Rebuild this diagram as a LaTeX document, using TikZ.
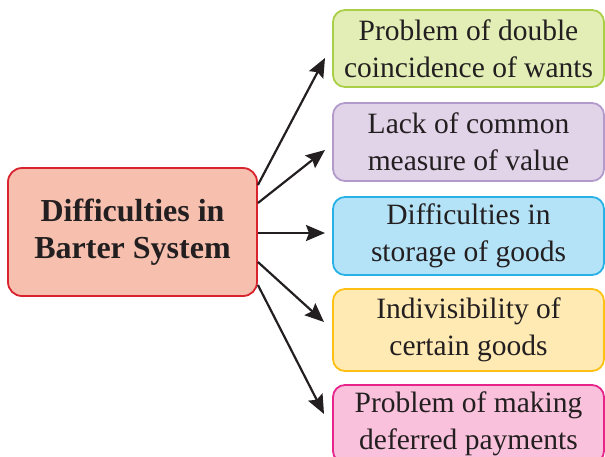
\documentclass[tikz,border=0pt]{standalone}
\usepackage{fontspec}
\setmainfont{Liberation Serif}
\usetikzlibrary{arrows.meta}
\definecolor{txt}{HTML}{231F20}
\definecolor{mainfill}{HTML}{F6BFAE}
\definecolor{maindraw}{HTML}{D8242F}
\definecolor{afill}{HTML}{E3EEB6}
\definecolor{adraw}{HTML}{A9CF46}
\definecolor{bfill}{HTML}{E1D4E9}
\definecolor{bdraw}{HTML}{B29BCB}
\definecolor{cfill}{HTML}{B4E3F8}
\definecolor{cdraw}{HTML}{27B1E6}
\definecolor{dfill}{HTML}{FFEAB3}
\definecolor{ddraw}{HTML}{FDC013}
\definecolor{efill}{HTML}{F9C1DB}
\definecolor{edraw}{HTML}{E7238C}
\tikzset{
  box/.style={rectangle, rounded corners=12pt, line width=1.8pt, align=center,
    text=txt, inner sep=0pt, minimum width=271pt,
    font=\fontsize{29.5}{37}\selectfont},
  mainbox/.style={rectangle, rounded corners=14pt, line width=1.8pt, align=center,
    text=txt, inner sep=0pt, minimum width=249pt, minimum height=128pt,
    font=\fontsize{32}{37}\selectfont\bfseries, fill=mainfill, draw=maindraw},
  arr/.style={line width=2.2pt, draw=txt, -{Stealth[length=19pt,width=16pt,inset=3pt]}}
}
\begin{document}
\begin{tikzpicture}[x=1pt,y=-1pt]
\useasboundingbox (0,0) rectangle (605,456);
\node[mainbox] (main) at (132.5,232) {Difficulties in\\Barter System};
\node[box, fill=afill, draw=adraw, minimum height=77pt] (b1) at (468.5,48.5) {Problem of double\\coincidence of wants};
\node[box, fill=bfill, draw=bdraw, minimum height=78pt] (b2) at (468.5,142) {Lack of common\\measure of value};
\node[box, fill=cfill, draw=cdraw, minimum height=78pt] (b3) at (468.5,236) {Difficulties in\\storage of goods};
\node[box, fill=dfill, draw=ddraw, minimum height=82pt] (b4) at (468.5,330) {Indivisibility of\\certain goods};
\node[box, fill=efill, draw=edraw, minimum height=78pt] (b5) at (468.5,424) {Problem of making\\deferred payments};
\coordinate (t1) at (325,58);
\coordinate (t2) at (325,150);
\coordinate (t3) at (325,233);
\coordinate (t4) at (324,322);
\coordinate (t5) at (324,414);
\draw[arr] ([yshift=47pt]main.east) -- (t1);
\draw[arr] ([yshift=29pt]main.east) -- (t2);
\draw[arr] ([yshift=-1pt]main.east) -- (t3);
\draw[arr] ([yshift=-30pt]main.east) -- (t4);
\draw[arr] ([yshift=-53pt]main.east) -- (t5);
\end{tikzpicture}
\end{document}
